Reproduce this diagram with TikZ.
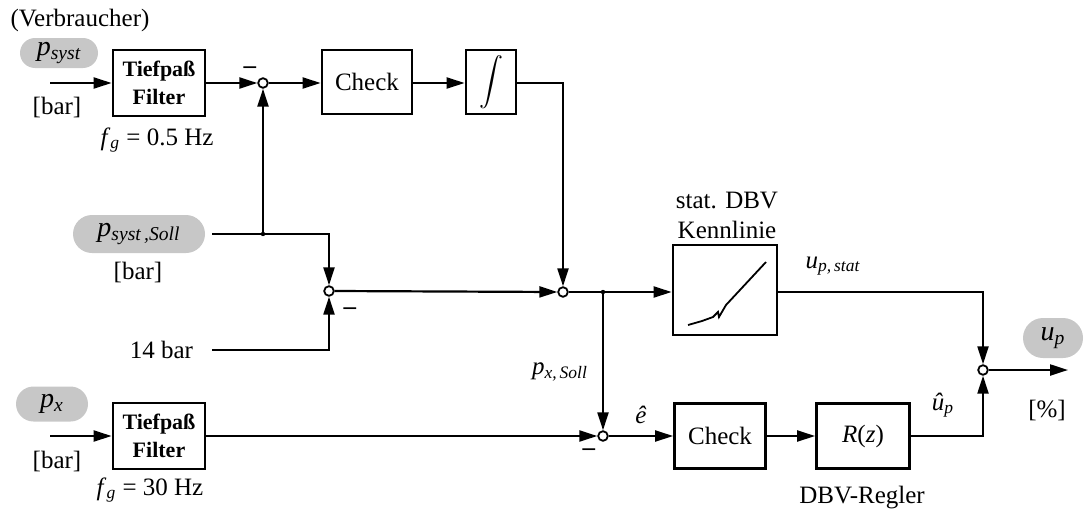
\documentclass[tikz,border=0pt]{standalone}
\usepackage{fontspec}
\setmainfont{Liberation Serif}
\usepackage{amsmath}
\usetikzlibrary{arrows.meta}
\newcommand\iv[2]{\textit{#1}\ensuremath{_{\textit{#2}}}}
\begin{document}
\begin{tikzpicture}[x=0.5pt,y=-0.5pt,font=\fontsize{12.5}{15}\selectfont,
  blk/.style={draw,line width=1.4pt,inner sep=0pt},
  filt/.style={blk,minimum width=46pt,minimum height=33pt,align=center,font=\fontsize{11}{14}\selectfont\bfseries},
  oval/.style={fill=black!22,inner sep=0pt,font=\fontsize{14}{16}\selectfont},
  sum/.style={circle,draw,fill=white,line width=0.9pt,inner sep=0pt,minimum size=4.8pt},
  arr/.style={line width=1.1pt,-{Triangle[length=9pt,width=5.5pt]}},
  dot/.style={circle,fill=black,inner sep=0pt,minimum size=2.2pt}]
\useasboundingbox (0,0) rectangle (1085,514);

% top row
\node (verb) at (80,20) {(Verbraucher)};
\node[oval,minimum width=39pt,minimum height=15pt,rounded corners=7.5pt] (psyst) at (59,53) {\iv{p}{syst}};
\node (bar1) at (57,107) {[bar]};
\coordinate (in1) at (50,83);
\node[filt] (filt1) at (159,83) {Tiefpaß\\Filter};
\node (fg1) at (157,140) {\textit{f}\ensuremath{_{\textit{g}}} = 0.5 Hz};
\node[sum] (sum1) at (263,83) {};
\node (m1) at (250,70) {\textbf{--}};
\node[blk,minimum width=45pt,minimum height=32pt] (check1) at (367,82) {Check};
\node[blk,minimum width=25pt,minimum height=32pt] (int) at (491,82) {$\displaystyle\int$};

% middle
\node[oval,minimum width=66pt,minimum height=19pt,rounded corners=9.5pt] (psoll) at (139,234) {\iv{p}{syst\,,Soll}};
\node (bar2) at (138,272) {[bar]};
\coordinate (j1) at (263,234);
\node[dot] at (j1) {};
\node[anchor=east] (fourteen) at (200,350) {14 bar};
\node[sum] (sum3) at (329,291) {};
\node (m3) at (350,311) {\textbf{--}};
\node[sum] (sum2) at (563,292) {};
\coordinate (j2) at (603,292);
\node[dot] at (j2) {};
\node[blk,minimum width=52pt,minimum height=45pt] (kenn) at (725,290) {};
\node (stat1) at (727,200) {stat. DBV};
\node (stat2) at (727,230) {Kennlinie};
\node (upstat) at (833,266) {\iv{u}{p,\,stat}};
\node (pxsoll) at (560,372) {\iv{p}{x,\,Soll}};
\node[sum] (sum5) at (983,370) {};
\coordinate (out) at (1068,370);
\node[oval,minimum width=30pt,minimum height=20pt,rounded corners=10pt] (up) at (1053,338) {\iv{u}{p}};
\node (pct) at (1047,410) {[\%]};
\node (uhat) at (943,405) {\textit{û}\ensuremath{_{\textit{p}}}};

% bottom row
\node[oval,minimum width=36pt,minimum height=17.5pt,rounded corners=8.75pt] (px) at (52,404) {\iv{p}{x}};
\node (bar3) at (57,461) {[bar]};
\coordinate (in2) at (50,436);
\node[filt] (filt2) at (159,436) {Tiefpaß\\Filter};
\node (fg2) at (150,490) {\textit{f}\ensuremath{_{\textit{g}}} = 30 Hz};
\node[sum] (sum4) at (603,436) {};
\node (m4) at (589,452) {\textbf{--}};
\node (ehat) at (641,415) {\textit{ê}};
\node[blk,minimum width=45.5pt,minimum height=32.5pt] (check2) at (720,436) {Check};
\node[blk,minimum width=46.5pt,minimum height=32.5pt] (rz) at (863,436) {\textit{R}(\textit{z})};
\node (regler) at (862,498) {DBV-Regler};

% Kennlinie curve
\draw[line width=0.9pt] (688,325) -- (702,321) -- (713,317) -- (718,312) -- (719,317) -- (726,305) -- (766,262);

% connectors
\draw[arr] (in1) -- (filt1.west |- in1);
\draw[arr] (filt1.east |- sum1) -- (sum1.west);
\draw[arr] (sum1.east) -- (check1.west |- sum1);
\draw[arr] (check1.east |- sum1) -- (int.west |- sum1);
\draw[arr] (int.east |- sum1) -| (sum2.north);
\draw[arr] ([xshift=3.5pt]psoll.east) -| (sum3.north);
\draw[arr] (j1) -- (sum1.south);
\draw[arr] ([xshift=6pt]fourteen.east) -| (sum3.south);
\draw[arr] (sum3.east) -- (sum2.west);
\draw[arr] (sum2.east) -- (kenn.west |- sum2);
\draw[arr] (j2) -- (sum4.north);
\draw[arr] (kenn.east |- sum2) -| (sum5.north);
\draw[arr] (sum5.east) -- (out);
\draw[arr] (in2) -- (filt2.west |- in2);
\draw[arr] (filt2.east |- sum4) -- (sum4.west);
\draw[arr] (sum4.east) -- (check2.west |- sum4);
\draw[arr] (check2.east |- sum4) -- (rz.west |- sum4);
\draw[arr] (rz.east |- sum4) -| (sum5.south);
\end{tikzpicture}
\end{document}
